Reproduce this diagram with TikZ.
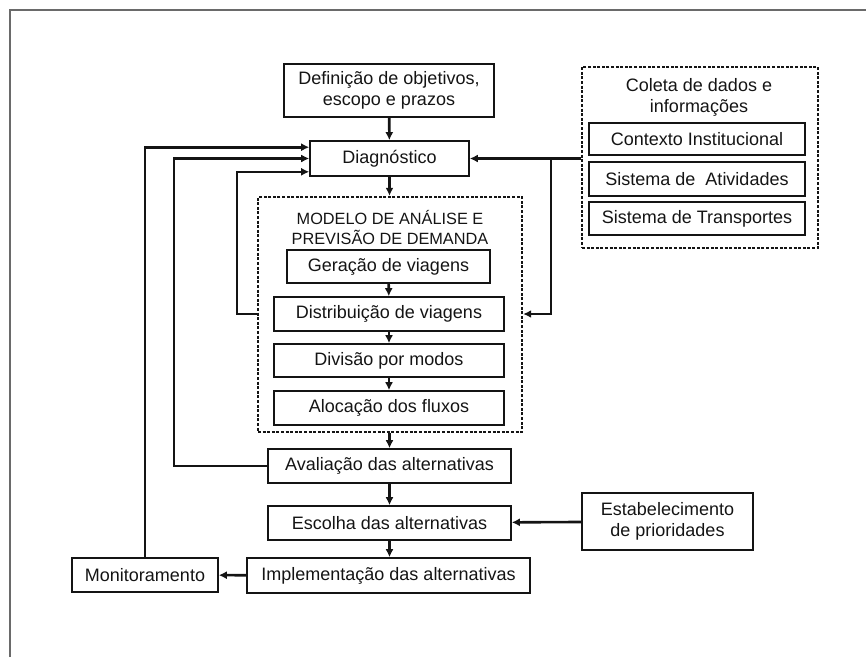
\documentclass[tikz,border=0pt]{standalone}
\usepackage{fontspec}
\setmainfont{Liberation Sans}
\usetikzlibrary{arrows.meta}
\definecolor{ink}{HTML}{141414}
\definecolor{framegray}{HTML}{6A6A6A}
\tikzset{
  box/.style={draw=ink, line width=1.6pt, inner sep=0pt, align=center, text=ink,
    font=\fontsize{18}{21}\selectfont},
  dbox/.style={draw=ink, line width=2.4pt, dash pattern=on 3pt off 1.6pt, inner sep=0pt},
  title/.style={align=center, text=ink, inner sep=0pt},
  arr/.style={draw=ink, line width=2.6pt, -{Latex[length=8pt,width=8pt]}},
  frameline/.style={draw=framegray, line width=1.8pt}
}
\begin{document}
\begin{tikzpicture}[x=1pt,y=-1pt]
\useasboundingbox (0,0) rectangle (866,657);
\draw[frameline] (10,657) -- (10,10) -- (866,10);

% main column
\node[box, minimum width=210, minimum height=53] (def) at (389,90.5) {Definição de objetivos,\\escopo e prazos};
\node[box, minimum width=159, minimum height=35] (diag) at (389.5,158.5) {Diagnóstico};
\node[dbox, minimum width=264, minimum height=235] (model) at (390,314.5) {};
\node[title, font=\fontsize{16.3}{20}\selectfont] (modelt) at (390,227.5) {MODELO DE ANÁLISE E\\PREVISÃO DE DEMANDA};
\node[box, minimum width=203, minimum height=33] (gen) at (388.5,266.5) {Geração de viagens};
\node[box, minimum width=230, minimum height=34] (dist) at (389,314) {Distribuição de viagens};
\node[box, minimum width=230, minimum height=33] (div) at (389,360.5) {Divisão por modos};
\node[box, minimum width=230, minimum height=34] (aloc) at (389,408) {Alocação dos fluxos};
\node[box, minimum width=243, minimum height=34] (aval) at (389.5,466) {Avaliação das alternativas};
\node[box, minimum width=243, minimum height=34] (esc) at (389.5,523) {Escolha das alternativas};
\node[box, minimum width=283, minimum height=35] (impl) at (388.5,575.5) {Implementação das alternativas};
\node[box, minimum width=146, minimum height=34] (mon) at (145,575) {Monitoramento};

% right side
\node[dbox, minimum width=236, minimum height=181] (col) at (700,157.5) {};
\node[title, font=\fontsize{18}{21}\selectfont] (colt) at (699,97.5) {Coleta de dados e\\informações};
\node[box, minimum width=216, minimum height=32] (ctx) at (697,139) {Contexto Institucional};
\node[box, minimum width=216, minimum height=34] (atv) at (697,179) {Sistema de\ \ Atividades};
\node[box, minimum width=216, minimum height=33] (trn) at (697,218.5) {Sistema de Transportes};
\node[box, minimum width=171, minimum height=57] (est) at (667.5,521.5) {Estabelecimento\\de prioridades};

% vertical flow
\draw[arr] (def) -- (diag);
\draw[arr] (diag) -- (model.north -| diag);
\draw[arr] (gen) -- (dist);
\draw[arr] (dist) -- (div);
\draw[arr] (div) -- (aloc);
\draw[arr] (model.south -| aval) -- (aval);
\draw[arr] (aval) -- (esc);
\draw[arr] (esc) -- (impl.north -| esc);
\draw[arr] (impl) -- (mon);
\draw[arr] (est) -- (esc);

% data collection feeds
\coordinate (br) at (551,158.5);
\draw[arr] (col.west |- diag) -- (diag.east);
\draw[arr] (br) |- (model.east |- dist);

% feedback loops
\draw[arr] (model.west |- dist) -- (237,314) |- ([yshift=5pt]diag.south west);
\draw[arr] (aval.west) -- (174,466) |- (diag.west);
\draw[arr] (mon.north) |- ([yshift=-7pt]diag.north west);
\end{tikzpicture}
\end{document}
